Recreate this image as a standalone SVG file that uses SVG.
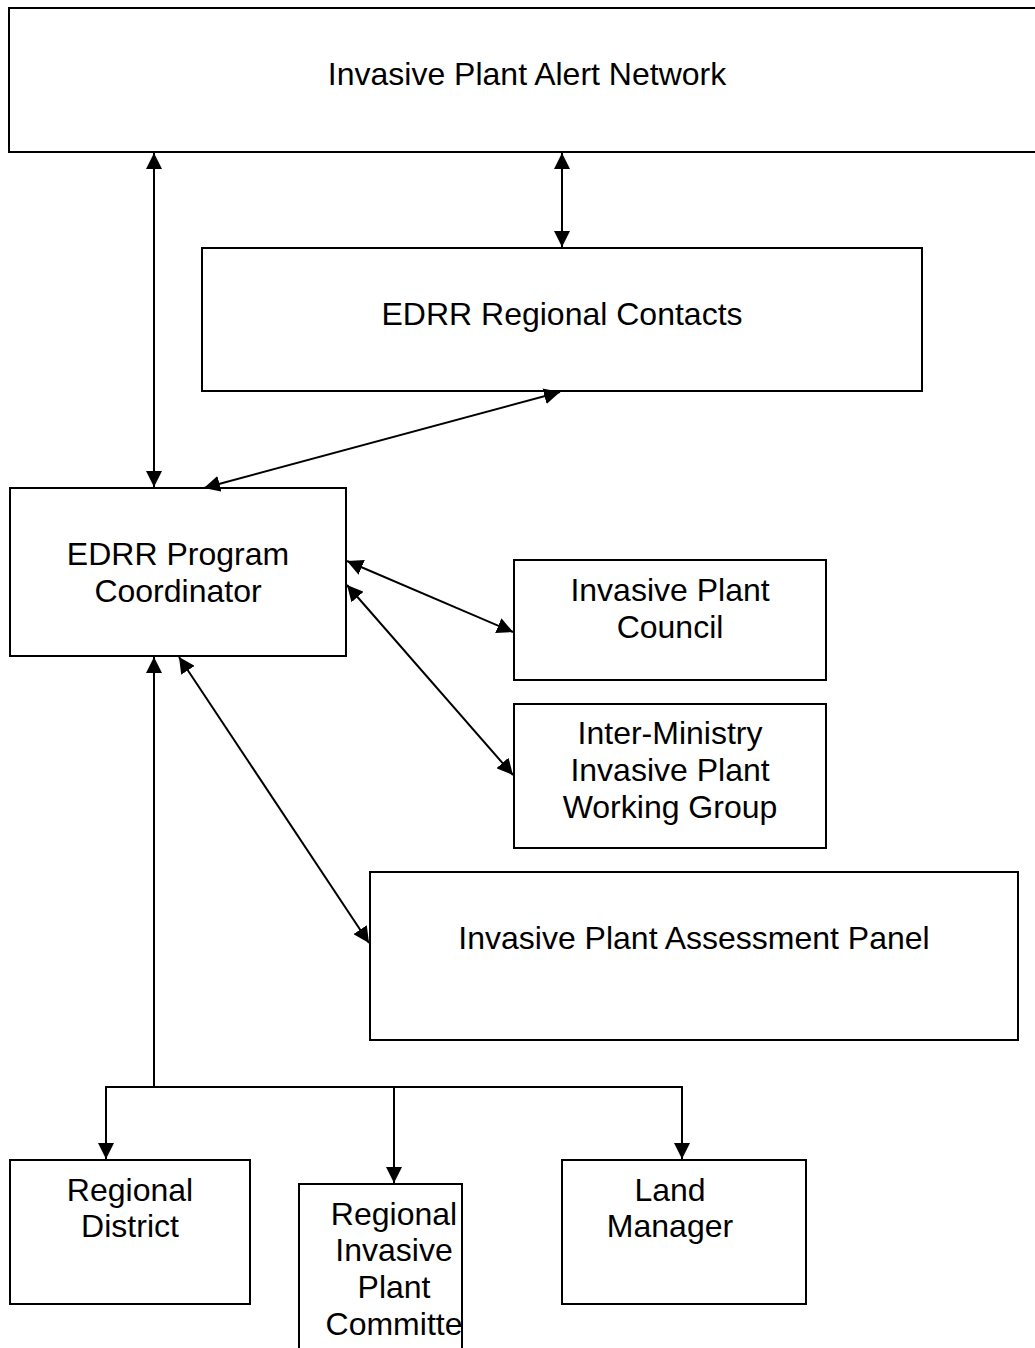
<svg xmlns="http://www.w3.org/2000/svg" width="1035" height="1348" viewBox="0 0 1035 1348">
<style>
.box{fill:#fff;stroke:#000;stroke-width:2}
.t{font-family:"Liberation Sans",Arial,sans-serif;font-size:32px;text-anchor:middle;fill:#000}
.c{fill:none;stroke:#000;stroke-width:2}
</style>
<defs>
<marker id="ah" viewBox="0 0 16 16" refX="16" refY="8" markerWidth="16" markerHeight="16" markerUnits="userSpaceOnUse" orient="auto-start-reverse">
<path d="M0,0 L16,8 L0,16 Z" fill="#000"/>
</marker>
</defs>
<rect width="1035" height="1348" fill="#fff"/>
<g id="alert-network"><rect class="box" x="9" y="8" width="1040" height="144"/><text class="t" x="527" y="85">Invasive Plant Alert Network</text></g>
<g id="regional-contacts"><rect class="box" x="202" y="248" width="720" height="143"/><text class="t" x="562" y="325">EDRR Regional Contacts</text></g>
<g id="coordinator"><rect class="box" x="10" y="488" width="336" height="168"/><text class="t" x="178" y="565">EDRR Program</text><text class="t" x="178" y="602">Coordinator</text></g>
<g id="council"><rect class="box" x="514" y="560" width="312" height="120"/><text class="t" x="670" y="601">Invasive Plant</text><text class="t" x="670" y="638">Council</text></g>
<g id="inter-ministry"><rect class="box" x="514" y="704" width="312" height="144"/><text class="t" x="670" y="744">Inter-Ministry</text><text class="t" x="670" y="781">Invasive Plant</text><text class="t" x="670" y="818">Working Group</text></g>
<g id="assessment-panel"><rect class="box" x="370" y="872" width="648" height="168"/><text class="t" x="694" y="949">Invasive Plant Assessment Panel</text></g>
<g id="regional-district"><rect class="box" x="10" y="1160" width="240" height="144"/><text class="t" x="130" y="1201">Regional</text><text class="t" x="130" y="1237">District</text></g>
<g id="committee"><rect class="box" x="299" y="1184" width="163" height="180"/><text class="t" x="394" y="1225">Regional</text><text class="t" x="394" y="1261">Invasive</text><text class="t" x="394" y="1298">Plant</text><text class="t" x="394" y="1335">Committe</text></g>
<g id="land-manager"><rect class="box" x="562" y="1160" width="244" height="144"/><text class="t" x="670" y="1201">Land</text><text class="t" x="670" y="1237">Manager</text></g>
<g id="connectors">
<line class="c" x1="154" y1="153" x2="154" y2="487" marker-start="url(#ah)" marker-end="url(#ah)"/>
<line class="c" x1="562" y1="153" x2="562" y2="247" marker-start="url(#ah)" marker-end="url(#ah)"/>
<line class="c" x1="560" y1="392" x2="204" y2="488" marker-start="url(#ah)" marker-end="url(#ah)"/>
<line class="c" x1="347" y1="561" x2="513" y2="632" marker-start="url(#ah)" marker-end="url(#ah)"/>
<line class="c" x1="347" y1="585" x2="513" y2="775" marker-start="url(#ah)" marker-end="url(#ah)"/>
<line class="c" x1="179" y1="657" x2="369" y2="943" marker-start="url(#ah)" marker-end="url(#ah)"/>
<line class="c" x1="154" y1="1087" x2="154" y2="657" marker-end="url(#ah)"/>
<polyline class="c" points="106,1159 106,1087 682,1087 682,1159" marker-start="url(#ah)" marker-end="url(#ah)"/>
<line class="c" x1="394" y1="1087" x2="394" y2="1183" marker-end="url(#ah)"/>
</g>
</svg>
